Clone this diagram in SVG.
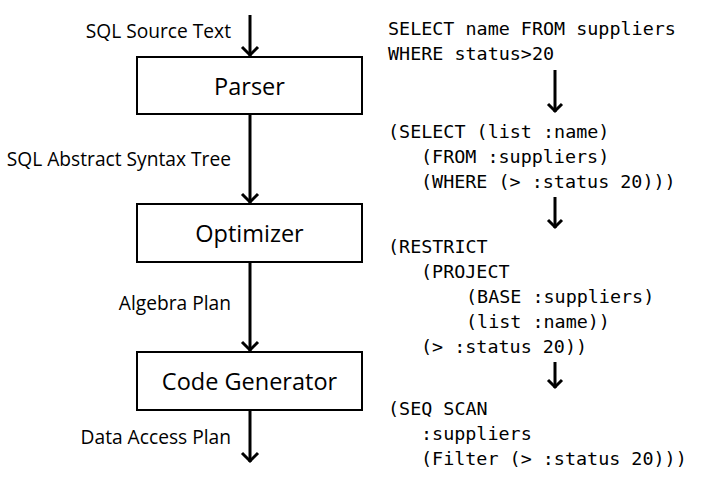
<svg xmlns="http://www.w3.org/2000/svg" width="701" height="486" viewBox="0 0 701 486">
<defs>
<style>
.box{fill:#fff;stroke:#000;stroke-width:2}
.lbl{font-family:"Open Sans","Liberation Sans",sans-serif;font-size:19.2px;fill:#000;text-anchor:end}
.node{font-family:"Open Sans","Liberation Sans",sans-serif;font-size:23.5px;fill:#000;text-anchor:middle}
.code{font-family:"DejaVu Sans Mono","Liberation Mono",monospace;font-size:18.4px;fill:#000}
.conn{stroke:#000;stroke-width:3;fill:none}
.head{stroke:#000;stroke-width:3;fill:none;stroke-linejoin:miter;stroke-linecap:butt}
</style>
</defs>
<rect width="701" height="486" fill="#fff"/>
<g id="connectors">
<line class="conn" x1="250" y1="15" x2="250" y2="56"/>
<polyline class="head" points="242,47 250,55 258,47"/>
<line class="conn" x1="250" y1="114" x2="250" y2="203"/>
<polyline class="head" points="242,194 250,202 258,194"/>
<line class="conn" x1="250" y1="262" x2="250" y2="351"/>
<polyline class="head" points="242,342 250,350 258,342"/>
<line class="conn" x1="250" y1="410" x2="250" y2="462"/>
<polyline class="head" points="242,453 250,461 258,453"/>
<line class="conn" x1="555" y1="70" x2="555" y2="112"/>
<polyline class="head" points="548,104 555,111 562,104"/>
<line class="conn" x1="555" y1="197" x2="555" y2="228"/>
<polyline class="head" points="548,220 555,227 562,220"/>
<line class="conn" x1="555" y1="362" x2="555" y2="388"/>
<polyline class="head" points="548,380 555,387 562,380"/>
</g>
<g id="parser">
<rect class="box" x="137" y="57" width="225" height="57"/>
<text class="node" x="249.5" y="95">Parser</text>
</g>
<g id="optimizer">
<rect class="box" x="137" y="204" width="225" height="58"/>
<text class="node" x="249.5" y="242">Optimizer</text>
</g>
<g id="codegen">
<rect class="box" x="137" y="352" width="225" height="58"/>
<text class="node" x="249.5" y="390">Code Generator</text>
</g>
<g id="labels">
<text class="lbl" x="231" y="38">SQL Source Text</text>
<text class="lbl" x="231" y="166">SQL Abstract Syntax Tree</text>
<text class="lbl" x="231" y="310">Algebra Plan</text>
<text class="lbl" x="231" y="444">Data Access Plan</text>
</g>
<g id="sql-text">
<text class="code" x="388" y="35">SELECT name FROM suppliers</text>
<text class="code" x="388" y="60">WHERE status&gt;20</text>
</g>
<g id="ast-text">
<text class="code" x="388" y="138">(SELECT (list :name)</text>
<text class="code" x="421" y="163">(FROM :suppliers)</text>
<text class="code" x="421" y="188">(WHERE (&gt; :status 20)))</text>
</g>
<g id="plan-text">
<text class="code" x="388" y="253">(RESTRICT</text>
<text class="code" x="421" y="278">(PROJECT</text>
<text class="code" x="466" y="303">(BASE :suppliers)</text>
<text class="code" x="466" y="328">(list :name))</text>
<text class="code" x="421" y="353">(&gt; :status 20))</text>
</g>
<g id="access-text">
<text class="code" x="388" y="415">(SEQ SCAN</text>
<text class="code" x="421" y="440">:suppliers</text>
<text class="code" x="421" y="465">(Filter (&gt; :status 20)))</text>
</g>
</svg>
